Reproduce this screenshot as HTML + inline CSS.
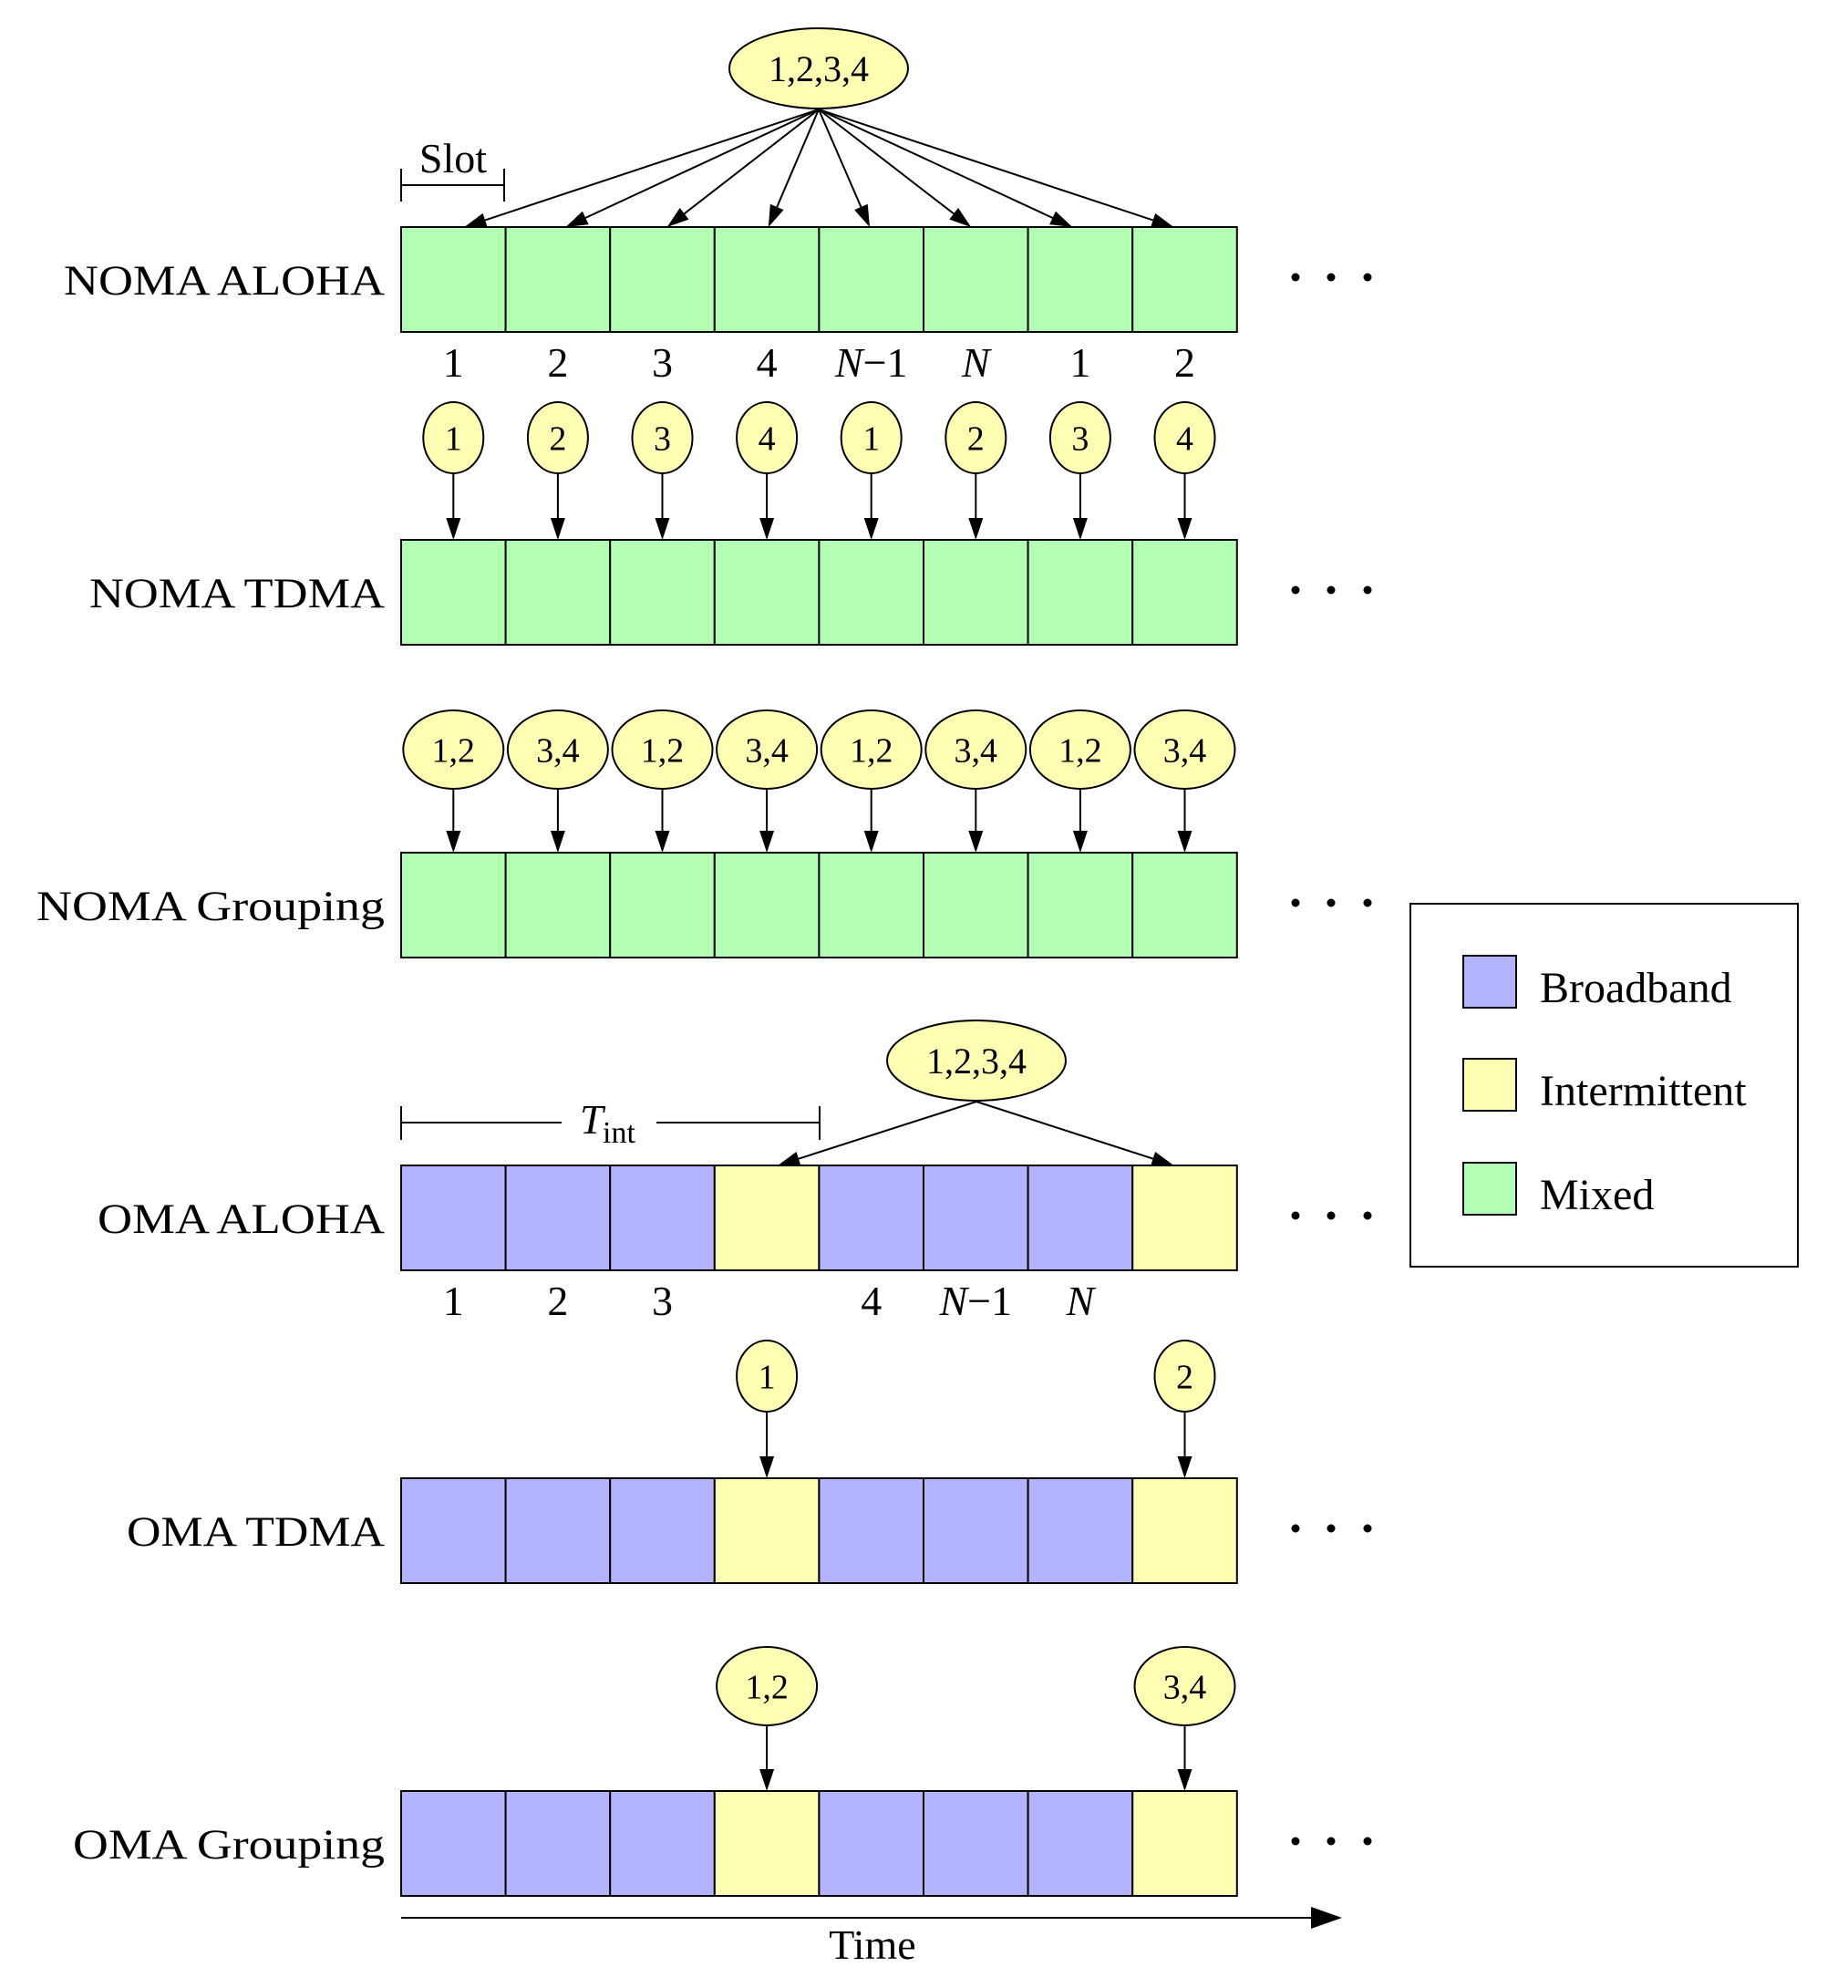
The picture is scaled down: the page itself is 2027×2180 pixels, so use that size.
<!DOCTYPE html>
<html><head><meta charset="utf-8"><style>
html,body{margin:0;padding:0;background:#fff;}
svg{display:block;}
text{font-family:"Liberation Serif",serif;fill:#000;}
</style></head><body>
<svg width="2027" height="2180" viewBox="0 0 2027 2180" xmlns="http://www.w3.org/2000/svg">
<g id="all"></g>
<script>
<![CDATA[
(function(){
var NS="http://www.w3.org/2000/svg", g=document.getElementById("all");
function el(n,a,t){var e=document.createElementNS(NS,n);for(var k in a)e.setAttribute(k,a[k]);if(t!==undefined)e.textContent=t;g.appendChild(e);return e;}
var x0=440,w=114.6,h=115,tops=[249,592,935,1278,1621,1964];
var G="#b3ffb3",B="#b3b3ff",Y="#ffffb3";
function cx(i){return x0+w*i+w/2;}
function arrow(x1,y1,x2,y2,al,aw){
  al=al||24;aw=aw||8;
  var dx=x2-x1,dy=y2-y1,L=Math.sqrt(dx*dx+dy*dy),ux=dx/L,uy=dy/L;
  var bx=x2-ux*al,by=y2-uy*al;
  el("line",{x1:x1,y1:y1,x2:bx,y2:by,stroke:"#000","stroke-width":2});
  el("polygon",{points:x2+","+y2+" "+(bx-uy*aw)+","+(by+ux*aw)+" "+(bx+uy*aw)+","+(by-ux*aw),fill:"#000"});
}
function row(r,cols,label,tl){
  var t=tops[r];
  for(var i=0;i<8;i++) el("rect",{x:x0+w*i,y:t,width:w,height:h,fill:cols[i],stroke:"#000","stroke-width":2});
  el("text",{x:422,y:t+74,"font-size":47,"text-anchor":"end",textLength:tl,lengthAdjust:"spacingAndGlyphs"},label);
  [1421,1460,1500].forEach(function(x){el("circle",{cx:x,cy:t+55,r:4.5,fill:"#000"});});
}
function bub(x,y,rx,ry,txt,fs){
  el("ellipse",{cx:x,cy:y,rx:rx,ry:ry,fill:Y,stroke:"#000","stroke-width":2});
  el("text",{x:x,y:y+fs*0.35,"font-size":fs,"text-anchor":"middle"},txt);
}
function num(x,y,s){
  if(s[0]=="N"){
    var t=el("text",{x:x,y:y,"font-size":46,"text-anchor":"middle"});
    var a=document.createElementNS(NS,"tspan");a.setAttribute("font-style","italic");a.textContent="N";t.appendChild(a);
    if(s.length>1){var b=document.createElementNS(NS,"tspan");b.textContent="\u22121";t.appendChild(b);}
  } else el("text",{x:x,y:y,"font-size":46,"text-anchor":"middle"},s);
}
var g8=[G,G,G,G,G,G,G,G], o8=[B,B,B,Y,B,B,B,Y];
row(0,g8,"NOMA ALOHA",352);
row(1,g8,"NOMA TDMA",324);
row(2,g8,"NOMA Grouping",382);
row(3,o8,"OMA ALOHA",315);
row(4,o8,"OMA TDMA",283);
row(5,o8,"OMA Grouping",342);
bub(898,75,98,44,"1,2,3,4",40);
for(var i=0;i<8;i++){var tx=cx(i)+(898-cx(i))*0.03;arrow(898,120,tx,249);}
el("line",{x1:440,y1:203,x2:553,y2:203,stroke:"#000","stroke-width":2});
el("line",{x1:440,y1:185,x2:440,y2:221,stroke:"#000","stroke-width":2});
el("line",{x1:553,y1:185,x2:553,y2:221,stroke:"#000","stroke-width":2});
el("text",{x:497,y:189,"font-size":46,"text-anchor":"middle"},"Slot");
var n0=["1","2","3","4","N\u22121","N","1","2"];
for(var i=0;i<8;i++) num(cx(i),413,n0[i]);
var b1=["1","2","3","4","1","2","3","4"];
for(var i=0;i<8;i++){bub(cx(i),480,33,39,b1[i],38);arrow(cx(i),519,cx(i),592);}
var b2=["1,2","3,4","1,2","3,4","1,2","3,4","1,2","3,4"];
for(var i=0;i<8;i++){bub(cx(i),822,55,43,b2[i],38);arrow(cx(i),865,cx(i),935);}
bub(1071,1163,98,44,"1,2,3,4",40);
arrow(1071,1208,cx(3)+12,1278);
arrow(1071,1208,cx(7)-12,1278);
el("line",{x1:440,y1:1231,x2:616,y2:1231,stroke:"#000","stroke-width":2});
el("line",{x1:720,y1:1231,x2:899,y2:1231,stroke:"#000","stroke-width":2});
el("line",{x1:440,y1:1213,x2:440,y2:1250,stroke:"#000","stroke-width":2});
el("line",{x1:899,y1:1213,x2:899,y2:1250,stroke:"#000","stroke-width":2});
el("text",{x:636,y:1243,"font-size":46,"font-style":"italic"},"T");
el("text",{x:661,y:1253,"font-size":34},"int");
[[0,"1"],[1,"2"],[2,"3"],[4,"4"],[5,"N\u22121"],[6,"N"]].forEach(function(p){num(cx(p[0]),1442,p[1]);});
bub(cx(3),1509,33,39,"1",38);arrow(cx(3),1548,cx(3),1621);
bub(cx(7),1509,33,39,"2",38);arrow(cx(7),1548,cx(7),1621);
bub(cx(3),1849,55,43,"1,2",38);arrow(cx(3),1892,cx(3),1964);
bub(cx(7),1849,55,43,"3,4",38);arrow(cx(7),1892,cx(7),1964);
arrow(440,2103,1472,2103,34,12);
el("text",{x:957,y:2148,"font-size":46,"text-anchor":"middle"},"Time");
el("rect",{x:1547,y:991,width:425,height:398,fill:"#fff",stroke:"#000","stroke-width":2});
[[1048,B,"Broadband"],[1161,Y,"Intermittent"],[1275,G,"Mixed"]].forEach(function(p){
  el("rect",{x:1605,y:p[0],width:58,height:57,fill:p[1],stroke:"#000","stroke-width":2});
  el("text",{x:1689,y:p[0]+51,"font-size":48},p[2]);
});
})();
]]>
</script>
</svg>
</body></html>
